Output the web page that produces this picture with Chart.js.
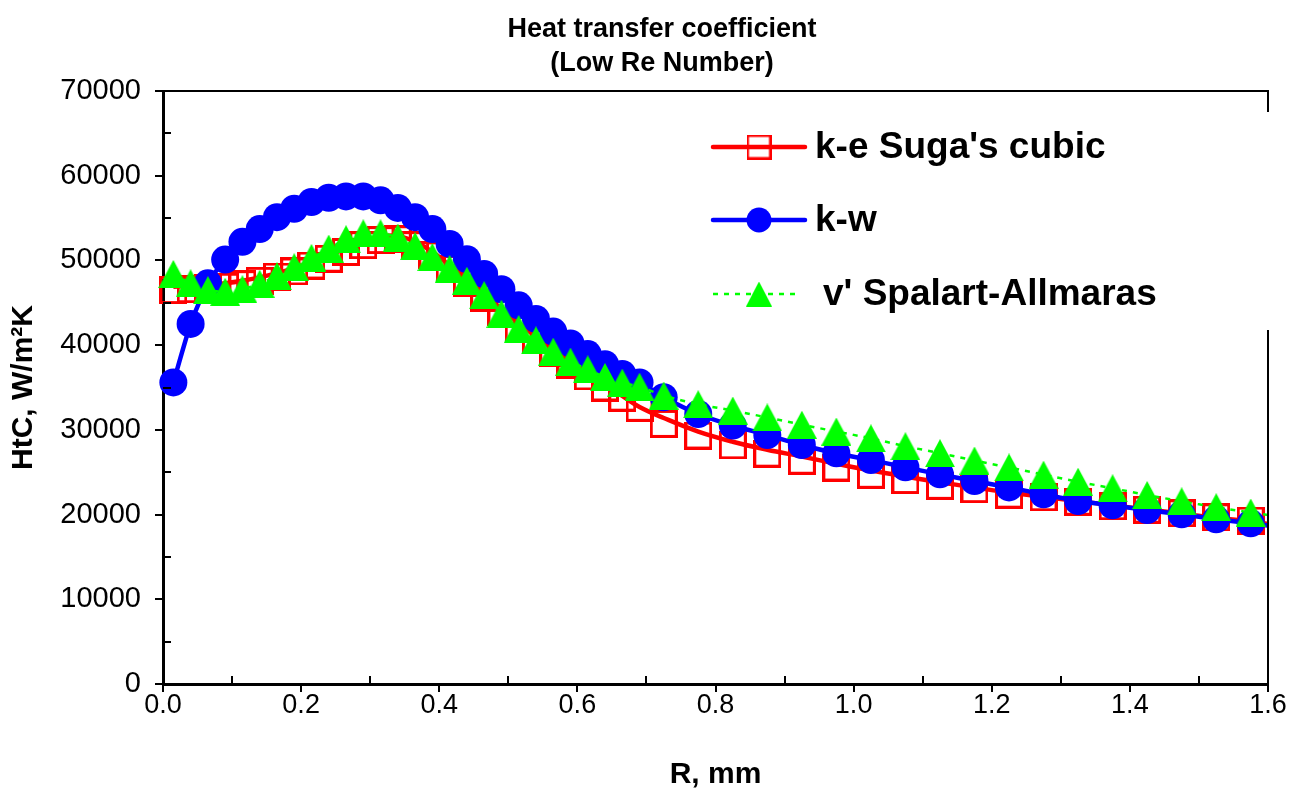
<!DOCTYPE html>
<html>
<head>
<meta charset="utf-8">
<script src="https://cdn.jsdelivr.net/npm/chart.js@4.4.0/dist/chart.umd.min.js"></script>
<style>
  html, body { margin: 0; padding: 0; background: #fff; }
  #wrap { width: 1293px; height: 794px; }
</style>
</head>
<body>
<div id="wrap"><canvas id="htc" width="1293" height="794"></canvas></div>
<script>
// radius positions, mm (last one is only the line end at the axis edge)
const radius = [0.015, 0.04, 0.065, 0.09, 0.115, 0.14, 0.165, 0.19, 0.215, 0.24,
                0.265, 0.29, 0.315, 0.34, 0.365, 0.39, 0.415, 0.44, 0.465, 0.49,
                0.515, 0.54, 0.565, 0.59, 0.615, 0.64, 0.665, 0.69,
                0.725, 0.775, 0.825, 0.875, 0.925, 0.975, 1.025, 1.075, 1.125, 1.175,
                1.225, 1.275, 1.325, 1.375, 1.425, 1.475, 1.525, 1.575, 1.6];

// k-e Suga's cubic, square markers
const keSugaSquares = [46500, 46600, 46700, 46900, 47200, 47600, 48100, 48700, 49400, 50200,
                       51000, 51800, 52400, 52500, 51800, 50600, 49000, 47300, 45600, 43900,
                       42200, 40600, 39100, 37700, 36300, 35000, 33800, 32600,
                       30700, 29330, 28170, 27190, 26360, 25550, 24700, 24080, 23390, 23000,
                       22350, 22040, 21520, 20980, 20570, 20150, 19680, 19300, null];
// k-e Suga's cubic, smooth curve
const keSugaCurve = [46900, 47000, 47100, 47300, 47600, 48000, 48500, 49100, 49800, 50600,
                     51400, 52200, 52800, 52900, 52200, 51000, 49400, 47700, 46000, 44300,
                     42600, 41000, 39500, 38100, 36700, 35400, 34000, 32700,
                     31400, 29800, 28600, 27650, 26850, 26000, 25200, 24500, 23800, 23200,
                     22600, 22100, 21600, 21100, 20600, 20100, 19600, 19200, 18900];
// k-w
const kOmega = [35600, 42500, 47300, 50100, 52200, 53700, 55100, 56100, 56900, 57400,
                57550, 57550, 57100, 56200, 55100, 53700, 51950, 50150, 48400, 46600,
                44700, 43100, 41600, 40200, 38950, 37750, 36600, 35600,
                33850, 31870, 30500, 29390, 28210, 27230, 26440, 25580, 24750, 23960,
                23200, 22390, 21600, 21090, 20540, 20030, 19440, 18970, 18700];
// v' Spalart-Allmaras
const spalart = [48400, 47300, 46500, 46300, 46600, 47250, 48150, 49200, 50300, 51400,
                 52500, 53200, 53200, 52700, 51700, 50400, 49000, 47600, 45900, 43700,
                 41900, 40570, 39230, 38050, 37140, 36240, 35570, 35090,
                 34050, 33030, 32280, 31460, 30610, 29800, 29000, 28070, 27250, 26380,
                 25560, 24710, 23880, 23100, 22310, 21560, 20870, 20240, 19950];

const X_MIN = 0, X_MAX = 1.6, X_STEP = 0.2;
const Y_MIN = 0, Y_MAX = 70000, Y_STEP = 10000;

const RED = '#ff0000', BLUE = '#0000ff', GREEN = '#00ff00';
const FONT = '"Liberation Sans", Arial, sans-serif';

function pts(arr) {
    return radius.map((r, i) => ({ x: r, y: arr[i] }));
}
// no marker on the last (edge) point
const markerRadius = radius.map((r, i) => i === radius.length - 1 ? 0 : 14);

function squareMarker(size, lw) {
    const c = document.createElement('canvas');
    c.width = size; c.height = size;
    const g = c.getContext('2d');
    g.strokeStyle = RED;
    g.lineWidth = lw;
    g.strokeRect(lw / 2, lw / 2, size - lw, size - lw);
    return c;
}
function triangleMarker(w, h) {
    const c = document.createElement('canvas');
    c.width = w; c.height = h;
    const g = c.getContext('2d');
    g.fillStyle = GREEN;
    g.beginPath();
    g.moveTo(w / 2, 0);
    g.lineTo(w, h);
    g.lineTo(0, h);
    g.closePath();
    g.fill();
    return c;
}
const squareImg = squareMarker(28, 3);
const triImg = triangleMarker(30, 28);
const squareSmall = squareMarker(25, 2.5);
const triSmall = triangleMarker(26, 25);

// frame, minor ticks, legend, title
const decorPlugin = {
    id: 'decor',
    afterDraw(chart) {
        const ctx = chart.ctx;
        const a = chart.chartArea;
        const xs = chart.scales.x, ys = chart.scales.y;
        ctx.save();
        ctx.strokeStyle = '#000';
        ctx.lineWidth = 2;
        ctx.beginPath();
        ctx.moveTo(a.left, a.top);
        ctx.lineTo(a.right, a.top);
        ctx.lineTo(a.right, a.bottom);
        ctx.stroke();
        // minor ticks, inward
        ctx.beginPath();
        for (let v = 5000; v < Y_MAX; v += 10000) {
            const y = Math.round(ys.getPixelForValue(v));
            ctx.moveTo(a.left, y);
            ctx.lineTo(a.left + 8, y);
        }
        for (let v = 0.1; v < X_MAX; v += 0.2) {
            const x = Math.round(xs.getPixelForValue(v));
            ctx.moveTo(x, a.bottom);
            ctx.lineTo(x, a.bottom - 8);
        }
        ctx.stroke();

        // legend
        ctx.fillStyle = '#fff';
        ctx.fillRect(700, 112, 593, 218);
        const entries = [
            { label: "k-e Suga's cubic", y: 147, color: RED, dash: [], marker: 'square', tx: 815 },
            { label: 'k-w', y: 220, color: BLUE, dash: [], marker: 'circle', tx: 815 },
            { label: "v' Spalart-Allmaras", y: 294, color: GREEN, dash: [5, 6], marker: 'tri', tx: 823 }
        ];
        entries.forEach(e => {
            ctx.strokeStyle = e.color;
            ctx.lineWidth = e.dash.length ? 2.5 : 4.5;
            ctx.lineCap = e.dash.length ? 'butt' : 'round';
            ctx.setLineDash(e.dash);
            ctx.beginPath();
            ctx.moveTo(713, e.y);
            ctx.lineTo(e.dash.length ? 800 : 805, e.y);
            ctx.stroke();
            ctx.setLineDash([]);
            if (e.marker === 'square') {
                ctx.drawImage(squareSmall, 759 - 12.5, e.y - 12.5);
            } else if (e.marker === 'circle') {
                ctx.fillStyle = BLUE;
                ctx.beginPath();
                ctx.arc(759, e.y, 12.5, 0, Math.PI * 2);
                ctx.fill();
            } else {
                ctx.drawImage(triSmall, 759 - 13, e.y - 12.5);
            }
            ctx.fillStyle = '#000';
            ctx.font = 'bold 37px ' + FONT;
            ctx.textBaseline = 'middle';
            ctx.textAlign = 'left';
            ctx.fillText(e.label, e.tx, e.y + 1);
        });

        // title
        ctx.fillStyle = '#000';
        ctx.font = 'bold 27px ' + FONT;
        ctx.textAlign = 'center';
        ctx.textBaseline = 'middle';
        ctx.fillText('Heat transfer coefficient', 662, 30);
        ctx.fillText('(Low Re Number)', 662, 64);
        ctx.restore();
    }
};

const ctx = document.getElementById('htc').getContext('2d');
new Chart(ctx, {
    type: 'line',
    data: {
        datasets: [
            {
                label: "v' Spalart-Allmaras",
                data: pts(spalart),
                borderColor: GREEN,
                borderWidth: 2.5,
                borderDash: [5, 6],
                pointStyle: triImg,
                pointRadius: markerRadius,
                tension: 0.3,
                clip: false,
                order: 1
            },
            {
                label: 'k-w',
                data: pts(kOmega),
                borderColor: BLUE,
                borderWidth: 4.5,
                backgroundColor: BLUE,
                pointBackgroundColor: BLUE,
                pointBorderWidth: 0,
                pointStyle: 'circle',
                pointRadius: markerRadius,
                tension: 0.2,
                clip: false,
                order: 2
            },
            {
                label: "k-e Suga's cubic (curve)",
                data: pts(keSugaCurve),
                borderColor: RED,
                borderWidth: 4.5,
                pointRadius: 0,
                tension: 0.4,
                clip: false,
                order: 3
            },
            {
                label: "k-e Suga's cubic",
                data: pts(keSugaSquares),
                showLine: false,
                pointStyle: squareImg,
                pointRadius: markerRadius,
                clip: false,
                order: 4
            }
        ]
    },
    options: {
        responsive: false,
        animation: false,
        devicePixelRatio: 1,
        layout: { padding: { top: 91, right: 25, left: 0, bottom: 0 } },
        plugins: {
            legend: { display: false },
            tooltip: { enabled: false },
            title: { display: false }
        },
        scales: {
            x: {
                type: 'linear',
                min: X_MIN,
                max: X_MAX,
                afterFit: s => { s.height = 110; },
                afterBuildTicks: s => {
                    s.ticks = [];
                    for (let v = X_MIN; v <= X_MAX + 1e-9; v += X_STEP) s.ticks.push({ value: +v.toFixed(1) });
                },
                ticks: {
                    color: '#000',
                    font: { family: FONT, size: 27 },
                    padding: -3,
                    maxRotation: 0,
                    callback: v => v.toFixed(1)
                },
                grid: { drawOnChartArea: false, drawTicks: true, tickLength: 8, color: '#000', lineWidth: 2 },
                border: { display: true, color: '#000', width: 3 },
                title: {
                    display: true,
                    text: 'R, mm',
                    color: '#000',
                    font: { family: FONT, size: 30, weight: 'bold' },
                    padding: { top: 0, bottom: 1 }
                }
            },
            y: {
                min: Y_MIN,
                max: Y_MAX,
                afterFit: s => { s.width = 163; },
                ticks: {
                    stepSize: Y_STEP,
                    color: '#000',
                    font: { family: FONT, size: 29 },
                    padding: 14,
                    callback: v => String(v)
                },
                grid: { drawOnChartArea: false, drawTicks: true, tickLength: 8, color: '#000', lineWidth: 2 },
                border: { display: true, color: '#000', width: 3 },
                title: {
                    display: true,
                    text: 'HtC, W/m²K',
                    color: '#000',
                    font: { family: FONT, size: 30, weight: 'bold' },
                    padding: { top: 6, bottom: 0 }
                }
            }
        }
    },
    plugins: [decorPlugin]
});
</script>
</body>
</html>
